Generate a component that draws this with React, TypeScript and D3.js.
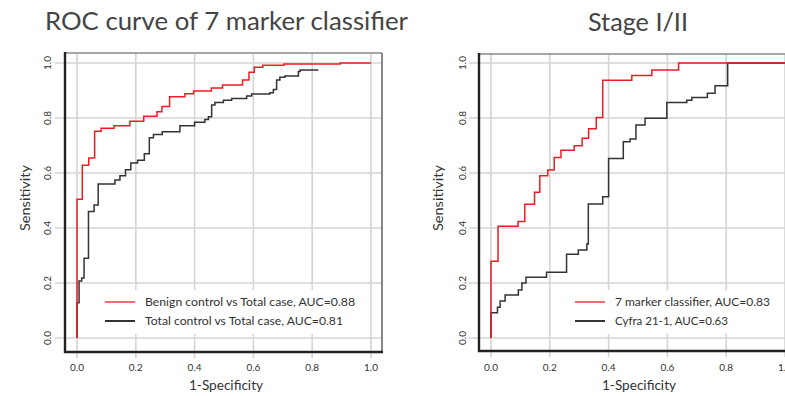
import React from "react";
import * as d3 from "d3";

// ---------- data ----------
const tickValues = [0, 0.2, 0.4, 0.6, 0.8, 1.0];
const tickLabels = ["0.0", "0.2", "0.4", "0.6", "0.8", "1.0"];

const titleLeft = "ROC curve of 7 marker classifier";
const titleRight = "Stage I/II";
const xTitle = "1-Specificity";
const yTitle = "Sensitivity";

// Left panel: Benign control vs Total case (red)
const benignFpr = [0, 0, 0.018, 0.04, 0.06, 0.082, 0.126, 0.18, 0.227, 0.272, 0.289, 0.315, 0.367, 0.397, 0.457, 0.495, 0.563, 0.585, 0.603, 0.632, 0.704, 0.895, 1.0];
const benignTpr = [0, 0.505, 0.628, 0.655, 0.752, 0.763, 0.772, 0.788, 0.806, 0.823, 0.842, 0.877, 0.888, 0.898, 0.909, 0.92, 0.938, 0.966, 0.985, 0.992, 0.996, 1.0, 1.0];

// Left panel: Total control vs Total case (black)
const totalFpr = [0, 0, 0.007, 0.016, 0.024, 0.039, 0.058, 0.072, 0.129, 0.146, 0.165, 0.183, 0.206, 0.229, 0.246, 0.26, 0.29, 0.35, 0.4, 0.435, 0.447, 0.458, 0.469, 0.498, 0.526, 0.577, 0.594, 0.656, 0.668, 0.679, 0.69, 0.707, 0.753, 0.759, 0.821];
const totalTpr = [0, 0.128, 0.207, 0.218, 0.29, 0.46, 0.484, 0.56, 0.575, 0.59, 0.612, 0.636, 0.646, 0.67, 0.728, 0.74, 0.75, 0.772, 0.785, 0.795, 0.805, 0.847, 0.856, 0.865, 0.871, 0.88, 0.887, 0.892, 0.904, 0.938, 0.948, 0.953, 0.969, 0.975, 0.975];

// Right panel: 7 marker classifier (red)
const markerFpr = [0, 0, 0.024, 0.092, 0.115, 0.148, 0.166, 0.193, 0.215, 0.238, 0.283, 0.31, 0.332, 0.358, 0.38, 0.479, 0.547, 0.638, 1.0];
const markerTpr = [0, 0.279, 0.406, 0.424, 0.486, 0.53, 0.59, 0.611, 0.656, 0.683, 0.699, 0.726, 0.761, 0.802, 0.937, 0.955, 0.975, 1.0, 1.0];

// Right panel: Cyfra 21-1 (black)
const cyfraFpr = [0, 0, 0.022, 0.031, 0.048, 0.093, 0.105, 0.119, 0.189, 0.257, 0.297, 0.326, 0.331, 0.38, 0.4, 0.45, 0.473, 0.493, 0.524, 0.598, 0.666, 0.683, 0.736, 0.762, 0.805, 1.0];
const cyfraTpr = [0, 0.092, 0.112, 0.135, 0.156, 0.175, 0.2, 0.221, 0.239, 0.305, 0.32, 0.342, 0.487, 0.514, 0.653, 0.714, 0.724, 0.775, 0.799, 0.856, 0.865, 0.875, 0.89, 0.917, 1.0, 1.0];

const legendLeft = ["Benign control vs Total case, AUC=0.88", "Total control vs Total case, AUC=0.81"];
const legendRight = ["7 marker classifier, AUC=0.83", "Cyfra 21-1, AUC=0.63"];

// ---------- styles ----------
const RED = "#ec1c24";
const BLACK = "#333333";
const GRID = "#d4d4d4";
const FONT = "Lato, 'Open Sans', sans-serif";

type Series = { fpr: number[]; tpr: number[]; color: string; width: number };

type PanelProps = {
  frame: { left: number; top: number; right: number; bottom: number };
  xRange: [number, number];
  yRange: [number, number];
  series: Series[];
  legend: string[];
  legendLen: number[];
  legendX: number;
  legendBoxRight: number;
  yTickX: number;
  yTitleX: number;
  xTitleX: number;
};

function Panel(p: PanelProps) {
  const x = d3.scaleLinear().domain([0, 1]).range(p.xRange);
  const y = d3.scaleLinear().domain([0, 1]).range(p.yRange);
  const line = d3
    .line<[number, number]>()
    .x((d) => x(d[0]))
    .y((d) => y(d[1]))
    .curve(d3.curveStepAfter);
  const f = p.frame;
  const legendY = [302, 321];
  const textX = p.legendX + 40;
  return (
    <g>
      {/* grid */}
      {tickValues.map((t, i) => (
        <line key={"h" + i} x1={f.left - 10} x2={f.right} y1={y(t)} y2={y(t)} stroke={GRID} strokeWidth={1.6} />
      ))}
      {tickValues.map((t, i) => (
        <line key={"v" + i} x1={x(t)} x2={x(t)} y1={f.top} y2={f.bottom + 6} stroke={GRID} strokeWidth={1.6} />
      ))}
      {/* curves: black first, red on top */}
      {p.series.map((s, i) => (
        <path
          key={"s" + i}
          d={line(s.fpr.map((v, j) => [v, s.tpr[j]] as [number, number])) || ""}
          fill="none"
          stroke={s.color}
          strokeWidth={s.width}
        />
      ))}
      {/* legend */}
      <rect x={p.legendX - 5} y={290} width={p.legendBoxRight - p.legendX + 5} height={44} fill="#ffffff" />
      <line x1={p.legendX} x2={p.legendX + 30} y1={legendY[0]} y2={legendY[0]} stroke={RED} strokeWidth={1.3} />
      <line x1={p.legendX} x2={p.legendX + 30} y1={legendY[1]} y2={legendY[1]} stroke={BLACK} strokeWidth={2} />
      {p.legend.map((t, i) => (
        <text
          key={"l" + i}
          x={textX}
          y={legendY[i]}
          dominantBaseline="central"
          fontSize={10.5}
          fontFamily={FONT}
          fill="#333"
          textLength={p.legendLen[i]}
          lengthAdjust="spacingAndGlyphs"
        >
          {t}
        </text>
      ))}
      {/* frame */}
      <line x1={f.left} x2={f.right} y1={f.top} y2={f.top} stroke="#8a8a8a" strokeWidth={1.6} />
      <line x1={f.right} x2={f.right} y1={f.top} y2={f.bottom} stroke="#6a6a6a" strokeWidth={1.6} />
      <line x1={f.left} x2={f.left} y1={f.top - 1} y2={f.bottom + 1} stroke="#222" strokeWidth={2.4} />
      <line x1={f.left - 1} x2={f.right + 1} y1={f.bottom} y2={f.bottom} stroke="#222" strokeWidth={2.4} />
      {/* tick labels */}
      {tickValues.map((t, i) => (
        <text
          key={"yt" + i}
          x={p.yTickX}
          y={y(t)}
          textAnchor="middle"
          dominantBaseline="central"
          fontSize={10}
          fontFamily={FONT}
          fill="#333"
          transform={`rotate(-90, ${p.yTickX}, ${y(t)})`}
        >
          {tickLabels[i]}
        </text>
      ))}
      {tickValues.map((t, i) => (
        <text
          key={"xt" + i}
          x={x(t)}
          y={367}
          textAnchor="middle"
          dominantBaseline="central"
          fontSize={10}
          fontFamily={FONT}
          fill="#333"
        >
          {tickLabels[i]}
        </text>
      ))}
      {/* axis titles */}
      <text
        x={p.xTitleX}
        y={385}
        textAnchor="middle"
        dominantBaseline="central"
        fontSize={12.5}
        fontFamily={FONT}
        fill="#333"
        textLength={74}
        lengthAdjust="spacingAndGlyphs"
      >
        {xTitle}
      </text>
      <text
        x={p.yTitleX}
        y={198}
        textAnchor="middle"
        dominantBaseline="central"
        fontSize={12.5}
        fontFamily={FONT}
        fill="#333"
        textLength={66}
        lengthAdjust="spacingAndGlyphs"
        transform={`rotate(-90, ${p.yTitleX}, 198)`}
      >
        {yTitle}
      </text>
    </g>
  );
}

export default function App() {
  return (
    <svg
      width={785}
      height={396}
      viewBox="0 0 785 396"
      style={{ position: "absolute", left: 0, top: 0, background: "#fff" }}
    >
      <rect x={0} y={0} width={785} height={396} fill="#fff" />
      <text x={45} y={30} fontSize={25} fontFamily={FONT} fill="#444" textLength={363} lengthAdjust="spacingAndGlyphs">
        {titleLeft}
      </text>
      <text x={638} y={31} textAnchor="middle" fontSize={25} fontFamily={FONT} fill="#444" textLength={100} lengthAdjust="spacingAndGlyphs">
        {titleRight}
      </text>
      <Panel
        frame={{ left: 65, top: 53, right: 382, bottom: 352 }}
        xRange={[77, 371]}
        yRange={[338, 63]}
        series={[
          { fpr: totalFpr, tpr: totalTpr, color: BLACK, width: 1.5 },
          { fpr: benignFpr, tpr: benignTpr, color: RED, width: 1.5 },
        ]}
        legend={legendLeft}
        legendLen={[210, 198]}
        legendX={105}
        legendBoxRight={360}
        yTickX={47}
        yTitleX={25}
        xTitleX={226}
      />
      <Panel
        frame={{ left: 479, top: 54, right: 800, bottom: 351 }}
        xRange={[491, 785]}
        yRange={[338, 63]}
        series={[
          { fpr: cyfraFpr, tpr: cyfraTpr, color: BLACK, width: 1.5 },
          { fpr: markerFpr, tpr: markerTpr, color: RED, width: 1.5 },
        ]}
        legend={legendRight}
        legendLen={[155, 113]}
        legendX={575}
        legendBoxRight={775}
        yTickX={462}
        yTitleX={438}
        xTitleX={639}
      />
    </svg>
  );
}
